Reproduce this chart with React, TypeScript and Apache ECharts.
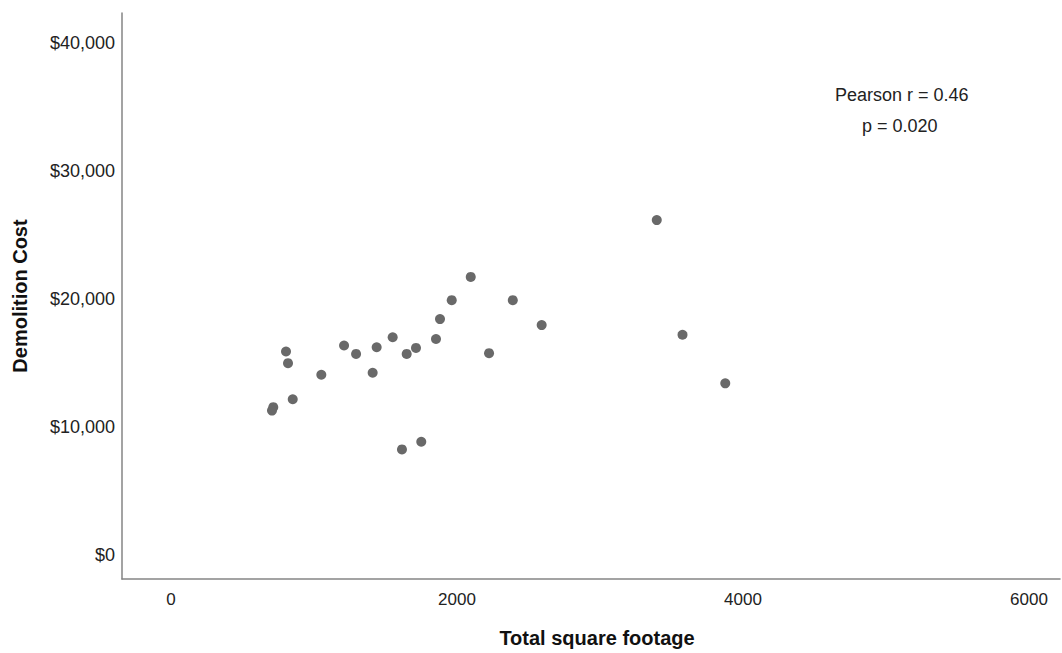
import React, { useEffect, useRef } from "react";
import * as echarts from "echarts";

const sqft: number[] = [
  2096, 1963, 2390, 1881, 2592, 1550, 1853, 1210, 1438, 1713, 804, 1294, 1648,
  2224, 818, 1051, 1410, 851, 715, 706, 1750, 1615, 3397, 3577, 3876,
];
const cost: number[] = [
  21724, 19907, 19907, 18431, 17965, 17010, 16878, 16365, 16233, 16179, 15899,
  15713, 15713, 15767, 14990, 14082, 14237, 12171, 11550, 11285, 8854, 8256,
  26159, 17204, 13414,
];
const xTicks: number[] = [0, 2000, 4000, 6000];
const yTicks: number[] = [0, 10000, 20000, 30000, 40000];
const xTitle = "Total square footage";
const yTitle = "Demolition Cost";
const statLines: string[] = ["Pearson r = 0.46", "p = 0.020"];

const FONT = "'Liberation Sans', Arial, sans-serif";

export default function App() {
  const ref = useRef<HTMLDivElement>(null);
  useEffect(() => {
    if (!ref.current) return;
    const chart = echarts.init(ref.current, undefined, { renderer: "svg" });
    const points = sqft.map((x, i) => [x, cost[i]]);
    chart.setOption({
      animation: false,
      backgroundColor: "#ffffff",
      grid: { left: 122, right: 2, top: 13, bottom: 71, containLabel: false },
      xAxis: {
        type: "value",
        min: -343,
        max: 6217,
        splitLine: { show: false },
        axisTick: { show: false },
        axisLine: { show: true, onZero: false, lineStyle: { color: "#858585", width: 1.5 } },
        axisLabel: {
          customValues: xTicks,
          color: "#222",
          fontFamily: FONT,
          fontSize: 17,
          margin: 12,
          formatter: (v: number) => String(v),
        },
        name: xTitle,
        nameLocation: "middle",
        nameGap: 49,
        nameTextStyle: { color: "#111", fontFamily: FONT, fontSize: 20, fontWeight: "bold", padding: [0, 0, 0, 12] },
      },
      yAxis: {
        type: "value",
        min: -1864,
        max: 42330,
        splitLine: { show: false },
        axisTick: { show: false },
        axisLine: { show: true, onZero: false, lineStyle: { color: "#858585", width: 1.5 } },
        axisLabel: {
          customValues: yTicks,
          color: "#222",
          fontFamily: FONT,
          fontSize: 18,
          margin: 7,
          formatter: (v: number) => "$" + v.toLocaleString("en-US"),
        },
        name: yTitle,
        nameLocation: "middle",
        nameGap: 92,
        nameTextStyle: { color: "#111", fontFamily: FONT, fontSize: 20, fontWeight: "bold" },
      },
      graphic: [
        {
          type: "text",
          left: 835,
          top: 86,
          style: { text: statLines[0], font: `18px ${FONT}`, fill: "#222" },
        },
        {
          type: "text",
          left: 862,
          top: 117,
          style: { text: statLines[1], font: `18px ${FONT}`, fill: "#222" },
        },
      ],
      series: [
        {
          type: "scatter",
          data: points,
          symbol: "circle",
          symbolSize: 10,
          itemStyle: { color: "#696969", opacity: 1 },
        },
      ],
    });
    return () => chart.dispose();
  }, []);
  return (
    <div
      ref={ref}
      style={{ position: "fixed", left: 0, top: 0, width: 1062, height: 653 }}
    />
  );
}
